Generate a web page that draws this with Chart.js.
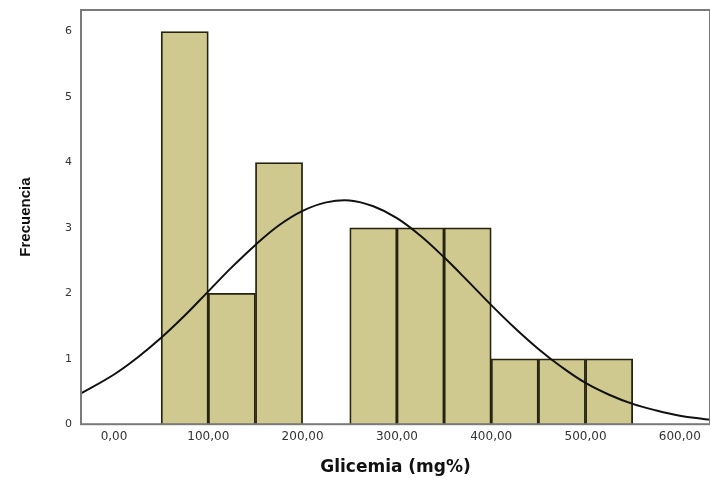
<!DOCTYPE html>
<html>
<head>
<meta charset="utf-8">
<script src="https://cdn.jsdelivr.net/npm/chart.js@4/dist/chart.umd.min.js"></script>
<style>
  html, body { margin: 0; padding: 0; background: #fff; }
  #wrap { width: 710px; height: 478px; }
</style>
</head>
<body>
<div id="wrap"><canvas id="hist"></canvas></div>
<script>
// ─── DATOS ──────────────────────────────────────────────────────
// centro de cada intervalo (ancho 50) y su frecuencia
const binCenters = [75, 125, 175, 225, 275, 325, 375, 425, 475, 525];
const frecuencias = [6, 2, 4, null, 3, 3, 3, 1, 1, 1];

// curva normal superpuesta, leída por puntos
const curvaX = [-35, 0, 25, 50, 75, 100, 125, 150, 175, 200, 225, 250, 275, 300,
                325, 350, 375, 400, 425, 450, 475, 500, 525, 550, 575, 600, 625, 632];
const curvaY = [0.47, 0.76, 1.02, 1.32, 1.66, 2.03, 2.40, 2.74, 3.04, 3.26, 3.39, 3.42, 3.33, 3.15,
                2.88, 2.55, 2.19, 1.82, 1.47, 1.15, 0.87, 0.63, 0.45, 0.31, 0.21, 0.13, 0.08, 0.07];

const xTicks = [0, 100, 200, 300, 400, 500, 600];
const yTicks = [0, 1, 2, 3, 4, 5, 6];

const C = {
  barra:  "#cfc98f",
  borde:  "#26230f",
  marco:  "#7a7a7a",
  texto:  "#333333",
};

// marco gris alrededor del área de trazado
const marco = {
  id: "marco",
  afterDraw(chart) {
    const { ctx, chartArea: a } = chart;
    ctx.save();
    ctx.strokeStyle = C.marco;
    ctx.lineWidth = 2;
    ctx.strokeRect(a.left, a.top, a.right - a.left, a.bottom - a.top);
    ctx.restore();
  },
};

new Chart(document.getElementById("hist"), {
  type: "bar",
  data: {
    datasets: [
      {
        type: "line",
        data: curvaX.map((x, i) => ({ x, y: curvaY[i] })),
        borderColor: "#111",
        borderWidth: 2,
        pointRadius: 0,
        tension: 0.4,
        fill: false,
        order: 0,
      },
      {
        data: binCenters.map((x, i) => ({ x, y: frecuencias[i] })),
        backgroundColor: C.barra,
        borderColor: C.borde,
        borderWidth: 1.8,
        barPercentage: 1,
        categoryPercentage: 1,
        order: 1,
      },
    ],
  },
  plugins: [marco],
  options: {
    responsive: true,
    maintainAspectRatio: false,
    animation: false,
    layout: { padding: { top: 10, right: 0, left: 17, bottom: 0 } },
    plugins: { legend: { display: false }, tooltip: { enabled: false } },
    scales: {
      x: {
        type: "linear",
        min: -35,
        max: 632,
        offset: false,
        grid: { display: false, drawTicks: false },
        border: { display: false },
        afterBuildTicks: s => { s.ticks = xTicks.map(v => ({ value: v })); },
        ticks: {
          color: C.texto,
          font: { family: "'DejaVu Sans', sans-serif", size: 12 },
          padding: 5,
          maxRotation: 0,
          callback: v => v.toFixed(2).replace(".", ","),
        },
        title: {
          display: true,
          text: "Glicemia (mg%)",
          color: "#111",
          font: { family: "'DejaVu Sans', sans-serif", size: 17, weight: "bold" },
          padding: { top: 9, bottom: 0 },
        },
      },
      y: {
        min: 0,
        max: 6.33,
        grid: { display: false, drawTicks: false },
        border: { display: false },
        afterBuildTicks: s => { s.ticks = yTicks.map(v => ({ value: v })); },
        afterFit: s => { s.paddingTop = 0; },
        ticks: {
          color: C.texto,
          font: { family: "'DejaVu Sans', sans-serif", size: 11 },
          padding: 9,
        },
        title: {
          display: true,
          text: "Frecuencia",
          color: "#111",
          font: { family: "'Liberation Sans', Arial, sans-serif", size: 15, weight: "bold" },
          padding: { top: 0, bottom: 21 },
        },
      },
    },
  },
});
</script>
</body>
</html>
